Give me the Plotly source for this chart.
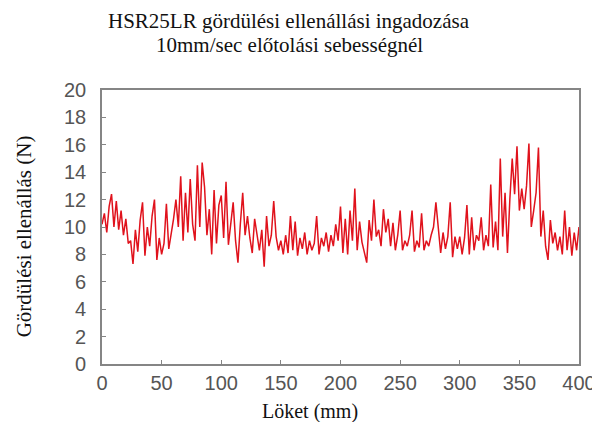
import plotly.graph_objects as go

# Stroke position (mm), 2 mm step
stroke_mm = list(range(0, 401, 2))

# Rolling resistance (N)
resistance_n = [
    10.2, 11.0, 9.6, 11.5, 12.4, 10.0, 11.9, 9.8, 11.2, 9.4,      # 0-18
    10.6, 8.8, 9.0, 7.3, 9.8, 8.2, 10.5, 11.8, 7.9, 10.0,         # 20-38
    8.6, 10.8, 12.0, 7.6, 9.2, 8.0, 8.8, 11.7, 8.4, 9.4,          # 40-58
    10.6, 12.0, 10.0, 13.7, 9.0, 12.5, 9.6, 13.5, 10.2, 9.0,      # 60-78
    14.5, 10.0, 14.7, 12.9, 9.4, 11.3, 8.0, 12.7, 8.8, 11.6,      # 80-98
    12.3, 9.2, 13.3, 8.7, 10.5, 11.8, 9.0, 7.4, 10.2, 12.5,       # 100-118
    9.4, 10.8, 9.2, 8.1, 10.6, 9.6, 8.3, 9.8, 7.1, 10.8,          # 120-138
    8.6, 9.4, 11.9, 9.3, 8.3, 9.0, 8.0, 9.4, 8.1, 10.8,           # 140-158
    8.3, 10.4, 7.9, 9.2, 8.4, 9.6, 8.0, 9.0, 8.3, 8.8,            # 160-178
    10.8, 8.0, 9.2, 8.6, 9.6, 8.2, 9.4, 8.6, 10.2, 9.0,           # 180-198
    11.5, 8.1, 10.6, 8.0, 11.2, 9.0, 12.8, 8.3, 10.4, 8.9,        # 200-218
    8.1, 7.4, 10.5, 9.0, 12.0, 9.3, 9.8, 8.6, 11.3, 9.6,          # 220-238
    10.6, 8.6, 10.3, 8.3, 9.4, 11.2, 8.3, 9.0, 8.6, 9.4,          # 240-258
    11.2, 8.2, 9.0, 8.5, 11.0, 8.3, 9.0, 8.6, 9.4, 10.0,          # 260-278
    11.8, 9.8, 8.1, 9.6, 8.4, 9.3, 11.8, 7.8, 9.3, 8.4,           # 280-298
    9.3, 8.0, 9.2, 11.6, 8.0, 10.7, 8.3, 9.4, 9.0, 10.7,          # 300-318
    8.3, 9.4, 8.6, 13.1, 8.5, 10.4, 8.3, 15.0, 9.3, 12.5,         # 320-338
    8.1, 12.0, 15.0, 12.4, 15.9, 11.2, 12.8, 11.3, 13.0, 16.1,    # 340-358
    10.0, 11.2, 12.5, 15.8, 9.3, 11.2, 8.6, 7.6, 10.5, 8.8,       # 360-378
    9.6, 8.3, 9.3, 8.0, 11.2, 8.3, 10.0, 7.9, 9.6, 8.3,           # 380-398
    10.0,                                                          # 400
]

x_ticks = [0, 50, 100, 150, 200, 250, 300, 350, 400]
y_ticks = [0, 2, 4, 6, 8, 10, 12, 14, 16, 18, 20]

title_line1 = "HSR25LR gördülési ellenállási ingadozása"
title_line2 = "10mm/sec előtolási sebességnél"
x_title = "Löket (mm)"
y_title = "Gördülési ellenállás (N)"

serif = "Liberation Serif, Times New Roman, serif"
sans = "Liberation Sans, Arial, sans-serif"

# plot area in window pixels: x 102..581, y 90..364 (page has an 8px body margin)
PW, PH = 479, 274


def px(x):
    return (x - 102) / PW


def py(y):
    return (364 - y) / PH


fig = go.Figure()
fig.add_trace(go.Scatter(
    x=stroke_mm, y=resistance_n, mode="lines",
    line=dict(color="#e0121c", width=1.5),
    showlegend=False, hoverinfo="skip",
))

axis_common = dict(
    showline=True, mirror=True, linecolor="#858585", linewidth=1.6,
    ticks="inside", ticklen=4, tickcolor="#858585", tickwidth=1,
    showgrid=False, zeroline=False,
    tickfont=dict(family=sans, size=20, color="#555555"),
)

fig.update_xaxes(range=[0, 400], tickvals=x_ticks, ticktext=[str(v) for v in x_ticks],
                 ticklabelstandoff=0, **axis_common)
fig.update_yaxes(range=[0, 20], tickvals=y_ticks, ticktext=[str(v) for v in y_ticks],
                 ticklabelstandoff=10, **axis_common)

fig.update_layout(
    width=600, height=422,
    margin=dict(l=94, r=27, t=82, b=66),
    paper_bgcolor="white", plot_bgcolor="white",
    annotations=[
        dict(text=title_line1, xref="paper", yref="paper", x=px(290), y=py(20.5),
             xanchor="center", yanchor="middle", showarrow=False, borderpad=0,
             font=dict(family=serif, size=21, color="#111111")),
        dict(text=title_line2, xref="paper", yref="paper", x=px(290), y=py(45),
             xanchor="center", yanchor="middle", showarrow=False, borderpad=0,
             font=dict(family=serif, size=21, color="#111111")),
        dict(text=x_title, xref="paper", yref="paper", x=px(311), y=py(411),
             xanchor="center", yanchor="middle", showarrow=False,
             font=dict(family=serif, size=20, color="#111111")),
        dict(text=y_title, xref="paper", yref="paper", x=px(24), y=py(236),
             xanchor="center", yanchor="middle", showarrow=False,
             textangle=-90, font=dict(family=serif, size=21, color="#111111")),
    ],
)

fig.write_html("out.html")
